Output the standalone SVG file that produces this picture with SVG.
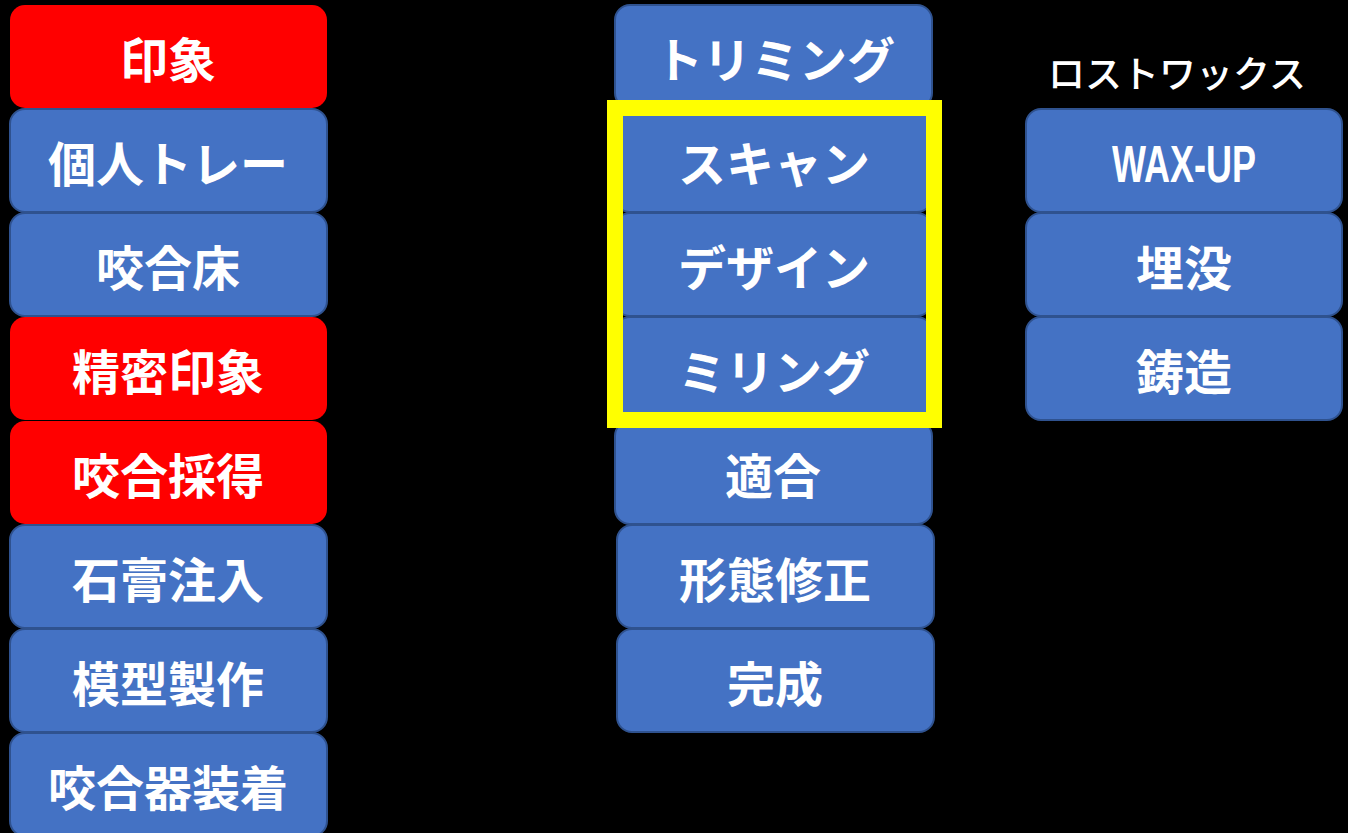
<svg xmlns="http://www.w3.org/2000/svg" width="1348" height="833" viewBox="0 0 1348 833">
<style>
.b{fill:#4472C4;stroke:#2F528F;stroke-width:2}
.r{fill:#FF0000;stroke:none}
.t{fill:#FFFFFF;font-family:"Noto Sans CJK JP","Noto Sans",sans-serif;font-weight:bold;font-size:48px;text-anchor:middle}
.w{fill:#FFFFFF;font-family:"Liberation Sans Narrow","Liberation Sans",sans-serif;font-weight:bold;font-size:52px;text-anchor:middle}
.h{fill:#FFFFFF;font-family:"Noto Sans CJK JP","Noto Sans",sans-serif;font-weight:500;font-size:37px;text-anchor:middle}
</style>
<rect width="1348" height="833" fill="#000000"/>
<g id="left">
<g id="n1"><rect class="r" x="10" y="5" width="317" height="103" rx="15"/><text class="t" x="168" y="78">印象</text></g>
<g id="n2"><rect class="b" x="10" y="109" width="317" height="103" rx="15"/><text class="t" x="168" y="182">個人トレー</text></g>
<g id="n3"><rect class="b" x="10" y="213" width="317" height="103" rx="15"/><text class="t" x="168" y="286">咬合床</text></g>
<g id="n4"><rect class="r" x="10" y="317" width="317" height="103" rx="15"/><text class="t" x="168" y="390">精密印象</text></g>
<g id="n5"><rect class="r" x="10" y="421" width="317" height="103" rx="15"/><text class="t" x="168" y="494">咬合採得</text></g>
<g id="n6"><rect class="b" x="10" y="525" width="317" height="103" rx="15"/><text class="t" x="168" y="598">石膏注入</text></g>
<g id="n7"><rect class="b" x="10" y="629" width="317" height="103" rx="15"/><text class="t" x="168" y="702">模型製作</text></g>
<g id="n8"><rect class="b" x="10" y="733" width="317" height="103" rx="15"/><text class="t" x="168" y="806">咬合器装着</text></g>
</g>
<g id="middle">
<g id="m1"><rect class="b" x="615" y="5" width="317" height="103" rx="15"/><text class="t" x="775" y="78">トリミング</text></g>
<g id="m2"><rect class="b" x="615" y="109" width="317" height="103" rx="15"/><text class="t" x="774" y="182">スキャン</text></g>
<g id="m3"><rect class="b" x="615" y="213" width="317" height="103" rx="15"/><text class="t" x="774" y="286">デザイン</text></g>
<g id="m4"><rect class="b" x="615" y="317" width="317" height="103" rx="15"/><text class="t" x="774" y="390">ミリング</text></g>
<g id="m5"><rect class="b" x="615" y="421" width="317" height="103" rx="15"/><text class="t" x="773" y="494">適合</text></g>
<g id="m6"><rect class="b" x="617" y="525" width="317" height="103" rx="15"/><text class="t" x="775" y="598">形態修正</text></g>
<g id="m7"><rect class="b" x="617" y="629" width="317" height="103" rx="15"/><text class="t" x="775" y="702">完成</text></g>
<g id="highlight"><rect x="615" y="108" width="319" height="312" fill="none" stroke="#FFFF00" stroke-width="16"/></g>
</g>
<g id="right">
<text id="label" class="h" x="1177" y="88">ロストワックス</text>
<g id="r1"><rect class="b" x="1026" y="109" width="316" height="103" rx="15"/><text class="w" x="1184" y="182" textLength="144" lengthAdjust="spacingAndGlyphs">WAX-UP</text></g>
<g id="r2"><rect class="b" x="1026" y="213" width="316" height="103" rx="15"/><text class="t" x="1184" y="286">埋没</text></g>
<g id="r3"><rect class="b" x="1026" y="317" width="316" height="103" rx="15"/><text class="t" x="1184" y="390">鋳造</text></g>
</g>
<g id="connectors"/>
</svg>
